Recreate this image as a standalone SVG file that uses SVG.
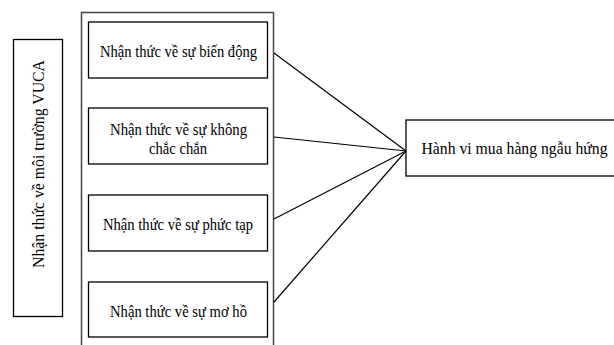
<svg xmlns="http://www.w3.org/2000/svg" width="614" height="345" viewBox="0 0 614 345">
<style>
.box{fill:#fff;stroke:#000;stroke-width:1.3}
.frame{fill:none;stroke:#444;stroke-width:1.5}
.t{font-family:"Liberation Serif","Times New Roman",serif;font-size:17px;fill:#000;text-anchor:middle}
.c{stroke:#000;stroke-width:1.2;fill:none}
</style>
<rect width="614" height="345" fill="#fff"/>
<g id="frame"><rect class="frame" x="81.5" y="12.5" width="192" height="340"/></g>
<g id="vuca">
<rect class="box" x="13.5" y="39.5" width="49" height="277"/>
<text class="t" transform="translate(44,164) rotate(-90)" x="0" y="0" textLength="208" lengthAdjust="spacingAndGlyphs">Nhận thức về môi trường VUCA</text>
</g>
<g id="n1">
<rect class="box" x="88.5" y="22" width="179" height="56"/>
<text class="t" x="178.5" y="57" textLength="157" lengthAdjust="spacingAndGlyphs">Nhận thức về sự biến động</text>
</g>
<g id="n2">
<rect class="box" x="88.5" y="108" width="179" height="56"/>
<text class="t" x="178.5" y="134.5" textLength="137" lengthAdjust="spacingAndGlyphs">Nhận thức về sự không</text>
<text class="t" x="178" y="153.5" textLength="58" lengthAdjust="spacingAndGlyphs">chắc chắn</text>
</g>
<g id="n3">
<rect class="box" x="88.5" y="195" width="179" height="56"/>
<text class="t" x="178" y="230" textLength="150" lengthAdjust="spacingAndGlyphs">Nhận thức về sự phức tạp</text>
</g>
<g id="n4">
<rect class="box" x="88.5" y="282" width="179" height="55"/>
<text class="t" x="178.5" y="316.5" textLength="137" lengthAdjust="spacingAndGlyphs">Nhận thức về sự mơ hồ</text>
</g>
<g id="target">
<rect class="box" x="406" y="120" width="212" height="56"/>
<text class="t" x="514.5" y="154" textLength="186" lengthAdjust="spacingAndGlyphs">Hành vi mua hàng ngẫu hứng</text>
</g>
<g id="connectors">
<line class="c" x1="274" y1="53" x2="406" y2="151"/>
<line class="c" x1="274" y1="137" x2="406" y2="151"/>
<line class="c" x1="274" y1="219" x2="406" y2="151"/>
<line class="c" x1="274" y1="302" x2="406" y2="151"/>
</g>
</svg>
